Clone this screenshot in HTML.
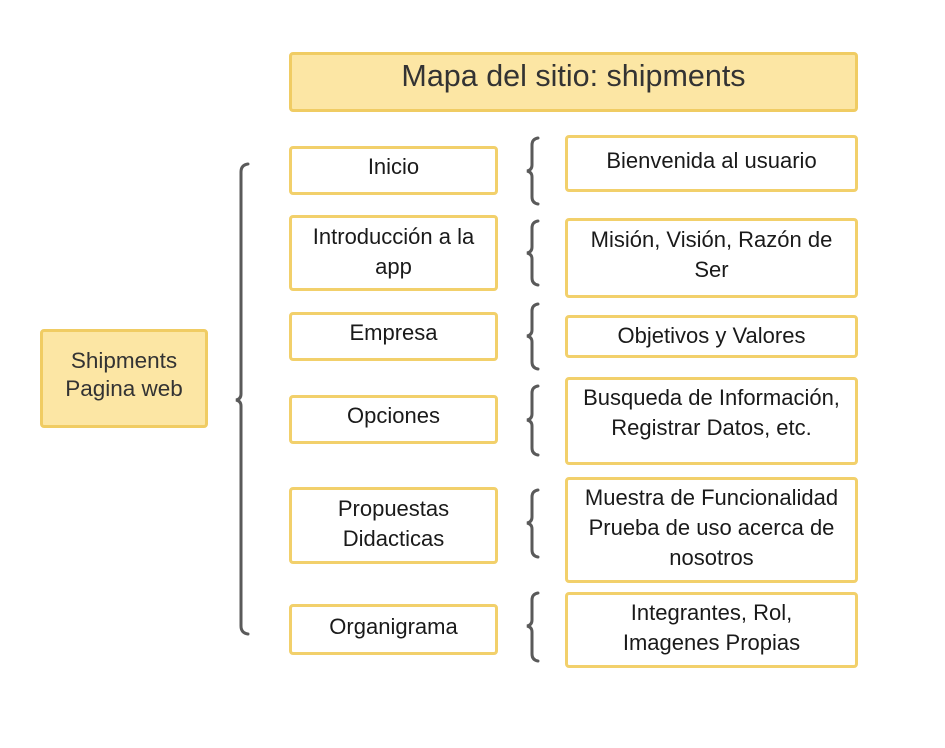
<!DOCTYPE html>
<html><head><meta charset="utf-8"><style>
body{margin:0;width:945px;height:748px;background:#fff;position:relative;overflow:hidden;font-family:"Liberation Sans",sans-serif;color:#1a1a1a}
.b{position:absolute;box-sizing:border-box;border:3px solid #f2d06b;border-radius:4px;background:#fff}
.y{background:#fce6a4;border-color:#f0cc63}
.t{position:absolute;text-align:center;font-size:22px;line-height:30px;white-space:nowrap}
</style></head><body>
<div class="b y" style="left:289px;top:52px;width:569px;height:60px"></div>
<div class="t" style="left:289px;width:569px;top:58px;font-size:30.5px;line-height:36px;color:#333">Mapa del sitio: shipments</div>
<div class="b y" style="left:40px;top:329px;width:168px;height:99px"></div>
<div class="t" style="left:40px;width:168px;top:347px;line-height:28px;font-size:22.5px;color:#333">Shipments<br>Pagina web</div>

<div class="b" style="left:289px;top:146px;width:209px;height:49px"></div>
<div class="t" style="left:289px;width:209px;top:152px">Inicio</div>
<div class="b" style="left:289px;top:215px;width:209px;height:76px"></div>
<div class="t" style="left:289px;width:209px;top:222px">Introducción a la<br>app</div>
<div class="b" style="left:289px;top:312px;width:209px;height:49px"></div>
<div class="t" style="left:289px;width:209px;top:318px">Empresa</div>
<div class="b" style="left:289px;top:395px;width:209px;height:49px"></div>
<div class="t" style="left:289px;width:209px;top:401px">Opciones</div>
<div class="b" style="left:289px;top:487px;width:209px;height:77px"></div>
<div class="t" style="left:289px;width:209px;top:494px">Propuestas<br>Didacticas</div>
<div class="b" style="left:289px;top:604px;width:209px;height:51px"></div>
<div class="t" style="left:289px;width:209px;top:612px">Organigrama</div>

<div class="b" style="left:565px;top:135px;width:293px;height:57px"></div>
<div class="t" style="left:565px;width:293px;top:146px">Bienvenida al usuario</div>
<div class="b" style="left:565px;top:218px;width:293px;height:80px"></div>
<div class="t" style="left:565px;width:293px;top:225px">Misión, Visión, Razón de<br>Ser</div>
<div class="b" style="left:565px;top:315px;width:293px;height:43px"></div>
<div class="t" style="left:565px;width:293px;top:321px">Objetivos y Valores</div>
<div class="b" style="left:565px;top:377px;width:293px;height:88px"></div>
<div class="t" style="left:565px;width:293px;top:383px">Busqueda de Información,<br>Registrar Datos, etc.</div>
<div class="b" style="left:565px;top:477px;width:293px;height:106px"></div>
<div class="t" style="left:565px;width:293px;top:483px">Muestra de Funcionalidad<br>Prueba de uso acerca de<br>nosotros</div>
<div class="b" style="left:565px;top:592px;width:293px;height:76px"></div>
<div class="t" style="left:565px;width:293px;top:598px">Integrantes, Rol,<br>Imagenes Propias</div>

<svg width="945" height="748" style="position:absolute;left:0;top:0" fill="none" stroke="#5a5a5a" stroke-width="3" stroke-linecap="round">
<path d="M248 164 Q241 165 241 172 L241 394 Q241 399 236 400 Q241 401 241 406 L241 626 Q241 633 248 634"/>
<path d="M538 138 Q532 139 532 145 L532 165 Q532 170 527 171 Q532 172 532 177 L532 197 Q532 203 538 204"/>
<path d="M538 221 Q532 222 532 228 L532 247 Q532 252 527 253 Q532 254 532 259 L532 278 Q532 284 538 285"/>
<path d="M538 304 Q532 305 532 311 L532 330 Q532 335 527 336 Q532 337 532 342 L532 362 Q532 368 538 369"/>
<path d="M538 386 Q532 387 532 393 L532 414 Q532 419 527 420 Q532 421 532 426 L532 448 Q532 454 538 455"/>
<path d="M538 490 Q532 491 532 497 L532 517 Q532 522 527 523 Q532 524 532 529 L532 550 Q532 556 538 557"/>
<path d="M538 593 Q532 594 532 600 L532 620 Q532 625 527 626 Q532 627 532 632 L532 654 Q532 660 538 661"/>
</svg>
</body></html>
